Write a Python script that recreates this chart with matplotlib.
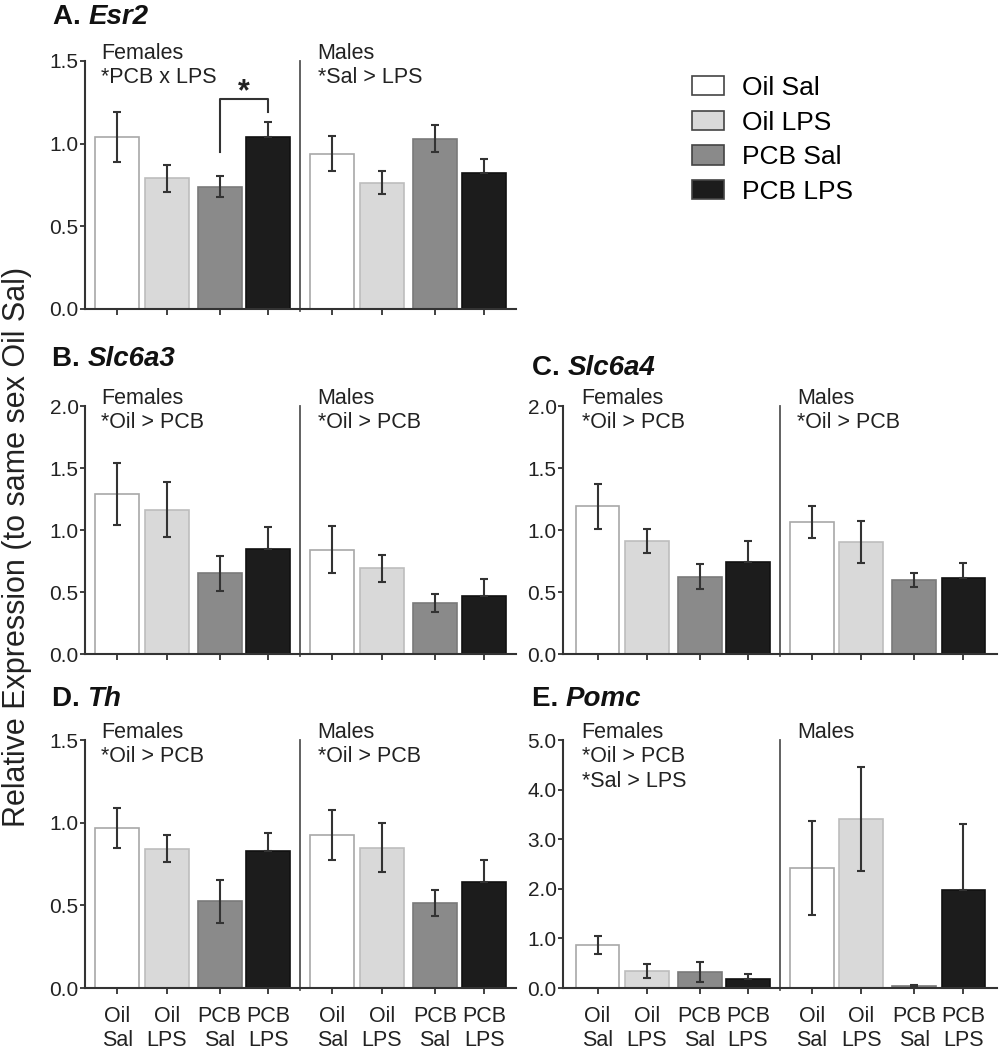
import numpy as np
import matplotlib
matplotlib.use('Agg')
import matplotlib.pyplot as plt
from matplotlib.patches import Patch

plt.rcParams['font.family'] = ['Liberation Sans', 'DejaVu Sans']

groups = ['Oil Sal', 'Oil LPS', 'PCB Sal', 'PCB LPS']
tick_labels = ['Oil\nSal', 'Oil\nLPS', 'PCB\nSal', 'PCB\nLPS'] * 2

esr2_mean = [1.04, 0.79, 0.74, 1.04, 0.94, 0.765, 1.03, 0.82]
esr2_sem = [0.15, 0.08, 0.065, 0.09, 0.105, 0.07, 0.08, 0.09]
slc6a3_mean = [1.29, 1.165, 0.65, 0.845, 0.84, 0.69, 0.41, 0.47]
slc6a3_sem = [0.25, 0.225, 0.14, 0.18, 0.19, 0.11, 0.075, 0.135]
slc6a4_mean = [1.19, 0.91, 0.625, 0.745, 1.065, 0.905, 0.60, 0.615]
slc6a4_sem = [0.185, 0.097, 0.10, 0.17, 0.13, 0.17, 0.057, 0.122]
th_mean = [0.966, 0.842, 0.525, 0.827, 0.924, 0.848, 0.515, 0.64]
th_sem = [0.12, 0.082, 0.13, 0.113, 0.15, 0.148, 0.08, 0.135]
pomc_mean = [0.87, 0.34, 0.33, 0.18, 2.42, 3.40, 0.05, 1.97]
pomc_sem = [0.175, 0.135, 0.2, 0.11, 0.95, 1.05, 0.02, 1.34]

fill = ['#ffffff', '#d9d9d9', '#8a8a8a', '#1c1c1c']
edge = ['#a8a8a8', '#bdbdbd', '#7a7a7a', '#111111']
dark = '#333333'

pos = np.array([0, 1, 2.07, 3.05, 4.35, 5.35, 6.42, 7.42])
divider = 3.70

W, H = 999, 1050
fig = plt.figure(figsize=(W / 100, H / 100), dpi=100)

# (letter, gene, means, sems, ymax, ystep, female notes, male notes, axes rect px, title px, xlim, xlabels)
panels = [
    ('A.', 'Esr2', esr2_mean, esr2_sem, 1.5, 0.5, ['Females', '*PCB x LPS'], ['Males', '*Sal > LPS'],
     (85, 61, 516, 309), (53, 24), (-0.65, 8.06), False),
    ('B.', 'Slc6a3', slc6a3_mean, slc6a3_sem, 2.0, 0.5, ['Females', '*Oil > PCB'], ['Males', '*Oil > PCB'],
     (85, 406, 516, 654), (52, 366), (-0.65, 8.06), False),
    ('C.', 'Slc6a4', slc6a4_mean, slc6a4_sem, 2.0, 0.5, ['Females', '*Oil > PCB'], ['Males', '*Oil > PCB'],
     (563, 406, 997, 654), (532, 375), (-0.70, 8.10), False),
    ('D.', 'Th', th_mean, th_sem, 1.5, 0.5, ['Females', '*Oil > PCB'], ['Males', '*Oil > PCB'],
     (85, 740, 516, 988), (52, 706), (-0.65, 8.06), True),
    ('E.', 'Pomc', pomc_mean, pomc_sem, 5.0, 1.0, ['Females', '*Oil > PCB', '*Sal > LPS'], ['Males'],
     (563, 740, 997, 988), (532, 706), (-0.70, 8.10), True),
]

axes = {}
for letter, gene, means, sems, ymax, ystep, fnotes, mnotes, rect, tpos, xlim, xlab in panels:
    x0, y0, x1, y1 = rect
    ax = fig.add_axes([x0 / W, 1 - y1 / H, (x1 - x0) / W, (y1 - y0) / H])
    axes[letter] = ax
    ax.bar(pos, means, width=0.89, color=fill * 2, edgecolor=edge * 2, linewidth=1.2, zorder=2)
    means = np.array(means)
    sems = np.array(sems)
    # lower whisker hidden inside the black bars, as in the original
    lower = np.where(np.arange(8) % 4 == 3, 0, sems)
    ax.errorbar(pos, means, yerr=[lower, sems], fmt='none', ecolor=dark, elinewidth=1.5,
                capsize=3.2, capthick=1.5, zorder=3)
    ax.axvline(divider, ymin=-0.01, ymax=1, color='#555555', lw=1.3, clip_on=False)
    ax.set_xlim(*xlim)
    ax.set_ylim(0, ymax)
    ax.set_yticks(np.arange(0, ymax + 1e-9, ystep))
    ax.set_yticklabels([f'{v:.1f}' for v in np.arange(0, ymax + 1e-9, ystep)])
    ax.set_xticks(pos)
    if xlab:
        ax.set_xticklabels(tick_labels, fontsize=15.5, color='#222222', linespacing=1.2)
    else:
        ax.set_xticklabels([])
    ax.tick_params(axis='y', labelsize=15, labelcolor='#222222', length=3.5, width=1.3, pad=1, color=dark)
    ax.tick_params(axis='x', length=4, width=1.3, pad=9, color=dark)
    for s in ['top', 'right']:
        ax.spines[s].set_visible(False)
    for s in ['left', 'bottom']:
        ax.spines[s].set_color(dark)
        ax.spines[s].set_linewidth(1.5)

    tr = ax.get_xaxis_transform()
    for i, t in enumerate(fnotes):
        ax.text(-0.32, 1.01 - 0.1 * i, t, transform=tr, fontsize=15.5, color='#222222', va='baseline', ha='left')
    for i, t in enumerate(mnotes):
        ax.text(4.05, 1.01 - 0.1 * i, t, transform=tr, fontsize=15.5, color='#222222', va='baseline', ha='left')

    t1 = fig.text(tpos[0] / W, 1 - tpos[1] / H, letter + ' ', fontsize=20, fontweight='bold',
                  va='baseline', ha='left', color='#111111')
    fig.canvas.draw()
    ax.annotate(gene, xy=(1, 0), xycoords=t1, fontsize=20, fontweight='bold', fontstyle='italic',
                va='bottom', ha='left', color='#111111', annotation_clip=False)

# significance bracket in Esr2 females
axA = axes['A.']
axA.plot([pos[2], pos[2], pos[3], pos[3]], [0.95, 1.27, 1.27, 1.19], color=dark, lw=1.5, clip_on=False)
axA.text((pos[2] + pos[3]) / 2, 1.31, '*', fontsize=22, fontweight='bold', ha='center', va='center', color='#222222')

handles = [Patch(facecolor=fill[i], edgecolor='#444444', linewidth=1.2) for i in range(4)]
fig.legend(handles, groups, loc='upper left', bbox_to_anchor=(692 / W, 1 - 76 / H), frameon=False,
           fontsize=19, handlelength=1.2, handleheight=0.75, handletextpad=0.7, labelspacing=0.4,
           borderpad=0, borderaxespad=0)

fig.text(17 / W, 1 - 547 / H, 'Relative Expression (to same sex Oil Sal)', rotation=90,
         fontsize=22, va='center', ha='center', color='#222222')

fig.savefig('out.png', dpi=100)
